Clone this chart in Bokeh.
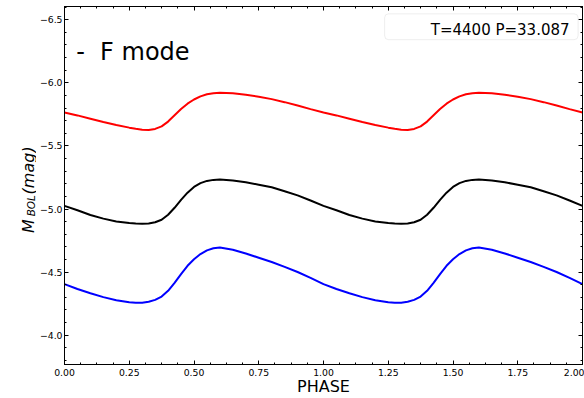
import numpy as np
from bokeh.plotting import figure
from bokeh.layouts import row
from bokeh.core.properties import value
from bokeh.models import (Range1d, LinearAxis, SingleIntervalTicker,
                          CustomJSTickFormatter, NumeralTickFormatter,
                          Label, BoxAnnotation)
from bokeh.embed import file_html
from bokeh.resources import INLINE

# Bolometric light curves over one pulsation cycle (phase 0..1)
phase = [0.0, 0.05, 0.1, 0.15, 0.2, 0.25, 0.275, 0.3, 0.325, 0.35, 0.375,
         0.4, 0.425, 0.45, 0.475, 0.5, 0.525, 0.55, 0.575, 0.6, 0.65, 0.7,
         0.75, 0.8, 0.85, 0.9, 0.95]

mbol_red = [-5.765, -5.742, -5.716, -5.690, -5.666, -5.645, -5.636, -5.629,
            -5.627, -5.635, -5.655, -5.693, -5.743, -5.792, -5.835, -5.868,
            -5.893, -5.909, -5.918, -5.921, -5.917, -5.906, -5.890, -5.871,
            -5.847, -5.820, -5.792]

mbol_black = [-5.025, -4.990, -4.953, -4.924, -4.902, -4.889, -4.885, -4.884,
              -4.886, -4.895, -4.915, -4.955, -5.010, -5.073, -5.130, -5.175,
              -5.205, -5.223, -5.231, -5.234, -5.227, -5.212, -5.193, -5.172,
              -5.141, -5.108, -5.068]

mbol_blue = [-4.405, -4.366, -4.333, -4.302, -4.277, -4.261, -4.257, -4.258,
             -4.265, -4.280, -4.306, -4.352, -4.415, -4.484, -4.550, -4.602,
             -4.643, -4.672, -4.689, -4.695, -4.678, -4.648, -4.614, -4.580,
             -4.542, -4.501, -4.455]

series_colors = ["#ff0000", "#000000", "#0000ff"]
mode_text = "-\u00a0\u00a0F mode"
legend_text = "T=4400 P=33.087"
x_label = "PHASE"
n_cycles = 2


def repeat_cycles(ph, mag, n):
    """Lay the single-cycle curve out over n consecutive cycles."""
    xs = [p + c for c in range(n) for p in ph] + [float(n)]
    ys = list(mag) * n + [mag[0]]
    return xs, ys


LABEL_W = 36
W, H = 584, 398
TICK_FONT = "9.3px"

yrange = Range1d(-3.768, -6.605)   # magnitudes: brighter towards the top

p = figure(width=W - LABEL_W, height=H, output_backend="svg",
           toolbar_location=None,
           x_range=Range1d(0, 2), y_range=yrange,
           min_border_left=61 - LABEL_W, min_border_right=2,
           min_border_top=6, min_border_bottom=34)

p.background_fill_color = "white"
p.border_fill_color = "white"
p.outline_line_color = "black"
p.outline_line_width = 1
p.xgrid.visible = False
p.ygrid.visible = False

xticker = SingleIntervalTicker(interval=0.25, num_minor_ticks=4)
yticker = SingleIntervalTicker(interval=0.5, num_minor_ticks=5)


def style_axis(ax):
    ax.axis_line_color = "black"
    ax.axis_line_width = 1
    ax.major_tick_line_color = "black"
    ax.minor_tick_line_color = "black"
    ax.major_tick_in = 4
    ax.major_tick_out = 0
    ax.minor_tick_in = 2
    ax.minor_tick_out = 0
    ax.major_label_text_font = "DejaVu Sans"
    ax.major_label_text_font_size = TICK_FONT
    ax.major_label_text_color = "black"


bottom = p.xaxis[0]
bottom.ticker = xticker
bottom.formatter = NumeralTickFormatter(format="0.00")
style_axis(bottom)
bottom.major_label_standoff = 4
bottom.axis_label = x_label
bottom.axis_label_text_font = "DejaVu Sans"
bottom.axis_label_text_font_size = "16px"
bottom.axis_label_text_font_style = "normal"
bottom.axis_label_text_color = "black"
bottom.axis_label_standoff = -2

left = p.yaxis[0]
left.ticker = yticker
left.formatter = CustomJSTickFormatter(
    code="return tick.toFixed(1).replace('-', '\u2212');")
style_axis(left)
left.major_label_standoff = 2

# tick marks only on the top and right spines
blank = CustomJSTickFormatter(code="return '';")
for loc, tk in (("above", xticker), ("right", yticker)):
    ax = LinearAxis(ticker=tk, formatter=blank)
    style_axis(ax)
    ax.major_label_text_font_size = "1px"
    ax.major_label_standoff = 0
    p.add_layout(ax, loc)

# light curves, two cycles each
for mag, color in zip((mbol_red, mbol_black, mbol_blue), series_colors):
    xs, ys = repeat_cycles(phase, mag, n_cycles)
    p.line(xs, ys, line_color=color, line_width=2)

# mode tag in the upper left
p.add_layout(Label(x=0.045, y=-6.241, text=mode_text,
                   text_font="DejaVu Sans", text_font_size="24px",
                   text_color="black", text_align="left",
                   text_baseline="alphabetic"))

# legend-style box with the model parameters
p.add_layout(BoxAnnotation(left=1.236, right=1.983, top=-6.547, bottom=-6.342,
                           fill_color="white", fill_alpha=0.8,
                           line_color="#c8c8c8", line_width=1,
                           border_radius=4))
p.add_layout(Label(x=1.950, y=-6.418, text=legend_text,
                   text_font="DejaVu Sans", text_font_size="15px",
                   text_color="black", text_align="right",
                   text_baseline="alphabetic"))

# narrow strip holding the rotated y-axis title  M_BOL(mag);
# it shares the magnitude range so the title sits beside the frame
side = figure(width=LABEL_W, height=H, output_backend="svg",
              toolbar_location=None, x_axis_location=None,
              y_axis_location=None, x_range=Range1d(0, LABEL_W),
              y_range=yrange, min_border=0)
side.outline_line_color = None
side.background_fill_color = "white"
side.border_fill_color = "white"
side.xgrid.visible = False
side.ygrid.visible = False

# (text, baseline x in px, start of the run in magnitudes, size)
ylabel_parts = [("M", 28.0, -4.811, "16px"),
                ("BOL", 30.0, -4.942, "10.5px"),
                ("(mag)", 28.0, -5.116, "16px")]
for txt, sx, sy, fs in ylabel_parts:
    side.text(x=[sx], y=[sy], text=[txt], angle=np.pi / 2,
              text_font=value("DejaVu Sans"), text_font_style="italic",
              text_font_size=fs, text_color="black",
              text_align="left", text_baseline="alphabetic")

layout = row(side, p, spacing=0)
open("out.html", "w").write(file_html(layout, INLINE))
